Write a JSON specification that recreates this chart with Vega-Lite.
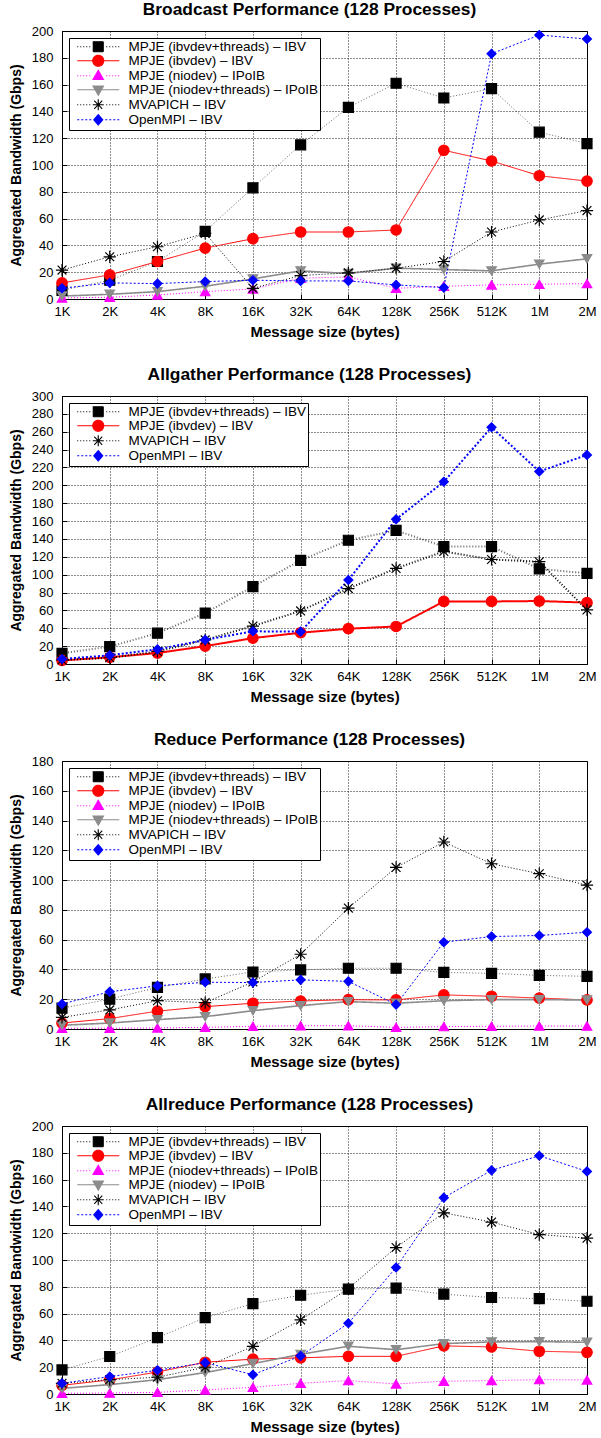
{
  "$schema": "https://vega.github.io/schema/vega-lite/v6.json",
  "background": "white",
  "padding": {"left": 8, "top": 0, "right": 5, "bottom": 3},
  "spacing": 25,
  "config": {
    "font": "Liberation Sans",
    "view": {"stroke": "black", "strokeWidth": 1},
    "title": {"font": "Liberation Sans", "fontSize": 17.4, "fontWeight": "bold", "color": "black", "offset": 6.5, "dx": -15},
    "axis": {"labelFont": "Liberation Sans", "labelFontSize": 13, "labelColor": "black", "titleFont": "Liberation Sans", "titleFontSize": 14, "titleFontWeight": "bold", "titleColor": "black", "grid": true, "gridColor": "black", "gridDash": [1, 2], "gridOpacity": 0.9, "domain": false, "tickColor": "black", "tickSize": -5},
    "axisX": {"labelPadding": 11, "titlePadding": 6, "titleFontSize": 15},
    "axisY": {"labelPadding": 14, "titlePadding": 8},
    "legend": {"orient": "top-left", "offset": 7, "padding": 2, "strokeColor": "black", "fillColor": "white", "labelFont": "Liberation Sans", "labelFontSize": 13.5, "labelColor": "black", "symbolSize": 100, "symbolOffset": 20.5, "labelOffset": 23.5, "rowPadding": -2.6, "labelLimit": 0}
  },
  "datasets": {
    "bcast": [
      {"series": "MPJE (ibvdev+threads) – IBV", "size": "1K", "gbps": 6.5},
      {"series": "MPJE (ibvdev+threads) – IBV", "size": "2K", "gbps": 14},
      {"series": "MPJE (ibvdev+threads) – IBV", "size": "4K", "gbps": 28},
      {"series": "MPJE (ibvdev+threads) – IBV", "size": "8K", "gbps": 50.5},
      {"series": "MPJE (ibvdev+threads) – IBV", "size": "16K", "gbps": 83},
      {"series": "MPJE (ibvdev+threads) – IBV", "size": "32K", "gbps": 115},
      {"series": "MPJE (ibvdev+threads) – IBV", "size": "64K", "gbps": 143},
      {"series": "MPJE (ibvdev+threads) – IBV", "size": "128K", "gbps": 161},
      {"series": "MPJE (ibvdev+threads) – IBV", "size": "256K", "gbps": 150},
      {"series": "MPJE (ibvdev+threads) – IBV", "size": "512K", "gbps": 157},
      {"series": "MPJE (ibvdev+threads) – IBV", "size": "1M", "gbps": 124.5},
      {"series": "MPJE (ibvdev+threads) – IBV", "size": "2M", "gbps": 116},
      {"series": "MPJE (ibvdev) – IBV", "size": "1K", "gbps": 12},
      {"series": "MPJE (ibvdev) – IBV", "size": "2K", "gbps": 18},
      {"series": "MPJE (ibvdev) – IBV", "size": "4K", "gbps": 28},
      {"series": "MPJE (ibvdev) – IBV", "size": "8K", "gbps": 38},
      {"series": "MPJE (ibvdev) – IBV", "size": "16K", "gbps": 45},
      {"series": "MPJE (ibvdev) – IBV", "size": "32K", "gbps": 50},
      {"series": "MPJE (ibvdev) – IBV", "size": "64K", "gbps": 50},
      {"series": "MPJE (ibvdev) – IBV", "size": "128K", "gbps": 51.5},
      {"series": "MPJE (ibvdev) – IBV", "size": "256K", "gbps": 111},
      {"series": "MPJE (ibvdev) – IBV", "size": "512K", "gbps": 103},
      {"series": "MPJE (ibvdev) – IBV", "size": "1M", "gbps": 92},
      {"series": "MPJE (ibvdev) – IBV", "size": "2M", "gbps": 88},
      {"series": "MPJE (niodev) – IPoIB", "size": "1K", "gbps": 0.8},
      {"series": "MPJE (niodev) – IPoIB", "size": "2K", "gbps": 1.3},
      {"series": "MPJE (niodev) – IPoIB", "size": "4K", "gbps": 3},
      {"series": "MPJE (niodev) – IPoIB", "size": "8K", "gbps": 5.5},
      {"series": "MPJE (niodev) – IPoIB", "size": "16K", "gbps": 7.5},
      {"series": "MPJE (niodev) – IPoIB", "size": "32K", "gbps": 15.5},
      {"series": "MPJE (niodev) – IPoIB", "size": "64K", "gbps": 16.5},
      {"series": "MPJE (niodev) – IPoIB", "size": "128K", "gbps": 8},
      {"series": "MPJE (niodev) – IPoIB", "size": "256K", "gbps": 9.5},
      {"series": "MPJE (niodev) – IPoIB", "size": "512K", "gbps": 10.5},
      {"series": "MPJE (niodev) – IPoIB", "size": "1M", "gbps": 11},
      {"series": "MPJE (niodev) – IPoIB", "size": "2M", "gbps": 11.5},
      {"series": "MPJE (niodev+threads) – IPoIB", "size": "1K", "gbps": 2.2},
      {"series": "MPJE (niodev+threads) – IPoIB", "size": "2K", "gbps": 3.5},
      {"series": "MPJE (niodev+threads) – IPoIB", "size": "4K", "gbps": 5.5},
      {"series": "MPJE (niodev+threads) – IPoIB", "size": "8K", "gbps": 9.5},
      {"series": "MPJE (niodev+threads) – IPoIB", "size": "16K", "gbps": 15},
      {"series": "MPJE (niodev+threads) – IPoIB", "size": "32K", "gbps": 21},
      {"series": "MPJE (niodev+threads) – IPoIB", "size": "64K", "gbps": 19},
      {"series": "MPJE (niodev+threads) – IPoIB", "size": "128K", "gbps": 23},
      {"series": "MPJE (niodev+threads) – IPoIB", "size": "256K", "gbps": 22},
      {"series": "MPJE (niodev+threads) – IPoIB", "size": "512K", "gbps": 21},
      {"series": "MPJE (niodev+threads) – IPoIB", "size": "1M", "gbps": 26},
      {"series": "MPJE (niodev+threads) – IPoIB", "size": "2M", "gbps": 30},
      {"series": "MVAPICH – IBV", "size": "1K", "gbps": 21.6},
      {"series": "MVAPICH – IBV", "size": "2K", "gbps": 31.5},
      {"series": "MVAPICH – IBV", "size": "4K", "gbps": 39},
      {"series": "MVAPICH – IBV", "size": "8K", "gbps": 49},
      {"series": "MVAPICH – IBV", "size": "16K", "gbps": 8},
      {"series": "MVAPICH – IBV", "size": "32K", "gbps": 17.5},
      {"series": "MVAPICH – IBV", "size": "64K", "gbps": 19.5},
      {"series": "MVAPICH – IBV", "size": "128K", "gbps": 23},
      {"series": "MVAPICH – IBV", "size": "256K", "gbps": 28},
      {"series": "MVAPICH – IBV", "size": "512K", "gbps": 50},
      {"series": "MVAPICH – IBV", "size": "1M", "gbps": 59},
      {"series": "MVAPICH – IBV", "size": "2M", "gbps": 66},
      {"series": "OpenMPI – IBV", "size": "1K", "gbps": 8},
      {"series": "OpenMPI – IBV", "size": "2K", "gbps": 12},
      {"series": "OpenMPI – IBV", "size": "4K", "gbps": 11.5},
      {"series": "OpenMPI – IBV", "size": "8K", "gbps": 13},
      {"series": "OpenMPI – IBV", "size": "16K", "gbps": 14},
      {"series": "OpenMPI – IBV", "size": "32K", "gbps": 13.5},
      {"series": "OpenMPI – IBV", "size": "64K", "gbps": 13.5},
      {"series": "OpenMPI – IBV", "size": "128K", "gbps": 10.5},
      {"series": "OpenMPI – IBV", "size": "256K", "gbps": 8.5},
      {"series": "OpenMPI – IBV", "size": "512K", "gbps": 183},
      {"series": "OpenMPI – IBV", "size": "1M", "gbps": 197},
      {"series": "OpenMPI – IBV", "size": "2M", "gbps": 194}
    ],
    "allgather": [
      {"series": "MPJE (ibvdev+threads) – IBV", "size": "1K", "gbps": 12},
      {"series": "MPJE (ibvdev+threads) – IBV", "size": "2K", "gbps": 19.5},
      {"series": "MPJE (ibvdev+threads) – IBV", "size": "4K", "gbps": 34.5},
      {"series": "MPJE (ibvdev+threads) – IBV", "size": "8K", "gbps": 57},
      {"series": "MPJE (ibvdev+threads) – IBV", "size": "16K", "gbps": 86.7},
      {"series": "MPJE (ibvdev+threads) – IBV", "size": "32K", "gbps": 116},
      {"series": "MPJE (ibvdev+threads) – IBV", "size": "64K", "gbps": 138.5},
      {"series": "MPJE (ibvdev+threads) – IBV", "size": "128K", "gbps": 149.5},
      {"series": "MPJE (ibvdev+threads) – IBV", "size": "256K", "gbps": 131.5},
      {"series": "MPJE (ibvdev+threads) – IBV", "size": "512K", "gbps": 131.5},
      {"series": "MPJE (ibvdev+threads) – IBV", "size": "1M", "gbps": 106.5},
      {"series": "MPJE (ibvdev+threads) – IBV", "size": "2M", "gbps": 101.5},
      {"series": "MPJE (ibvdev) – IBV", "size": "1K", "gbps": 4},
      {"series": "MPJE (ibvdev) – IBV", "size": "2K", "gbps": 7.5},
      {"series": "MPJE (ibvdev) – IBV", "size": "4K", "gbps": 12.3},
      {"series": "MPJE (ibvdev) – IBV", "size": "8K", "gbps": 20},
      {"series": "MPJE (ibvdev) – IBV", "size": "16K", "gbps": 29},
      {"series": "MPJE (ibvdev) – IBV", "size": "32K", "gbps": 35},
      {"series": "MPJE (ibvdev) – IBV", "size": "64K", "gbps": 39.5},
      {"series": "MPJE (ibvdev) – IBV", "size": "128K", "gbps": 42},
      {"series": "MPJE (ibvdev) – IBV", "size": "256K", "gbps": 70},
      {"series": "MPJE (ibvdev) – IBV", "size": "512K", "gbps": 70},
      {"series": "MPJE (ibvdev) – IBV", "size": "1M", "gbps": 70.5},
      {"series": "MPJE (ibvdev) – IBV", "size": "2M", "gbps": 68.7},
      {"series": "MVAPICH – IBV", "size": "1K", "gbps": 4.5},
      {"series": "MVAPICH – IBV", "size": "2K", "gbps": 7},
      {"series": "MVAPICH – IBV", "size": "4K", "gbps": 14},
      {"series": "MVAPICH – IBV", "size": "8K", "gbps": 27},
      {"series": "MVAPICH – IBV", "size": "16K", "gbps": 42.5},
      {"series": "MVAPICH – IBV", "size": "32K", "gbps": 59.4},
      {"series": "MVAPICH – IBV", "size": "64K", "gbps": 84.4},
      {"series": "MVAPICH – IBV", "size": "128K", "gbps": 107},
      {"series": "MVAPICH – IBV", "size": "256K", "gbps": 126},
      {"series": "MVAPICH – IBV", "size": "512K", "gbps": 117},
      {"series": "MVAPICH – IBV", "size": "1M", "gbps": 114.5},
      {"series": "MVAPICH – IBV", "size": "2M", "gbps": 60.5},
      {"series": "OpenMPI – IBV", "size": "1K", "gbps": 5.6},
      {"series": "OpenMPI – IBV", "size": "2K", "gbps": 9.7},
      {"series": "OpenMPI – IBV", "size": "4K", "gbps": 16.4},
      {"series": "OpenMPI – IBV", "size": "8K", "gbps": 27},
      {"series": "OpenMPI – IBV", "size": "16K", "gbps": 36.6},
      {"series": "OpenMPI – IBV", "size": "32K", "gbps": 36.2},
      {"series": "OpenMPI – IBV", "size": "64K", "gbps": 94},
      {"series": "OpenMPI – IBV", "size": "128K", "gbps": 162},
      {"series": "OpenMPI – IBV", "size": "256K", "gbps": 204},
      {"series": "OpenMPI – IBV", "size": "512K", "gbps": 265},
      {"series": "OpenMPI – IBV", "size": "1M", "gbps": 215.5},
      {"series": "OpenMPI – IBV", "size": "2M", "gbps": 234}
    ],
    "reduce": [
      {"series": "MPJE (ibvdev+threads) – IBV", "size": "1K", "gbps": 14},
      {"series": "MPJE (ibvdev+threads) – IBV", "size": "2K", "gbps": 20},
      {"series": "MPJE (ibvdev+threads) – IBV", "size": "4K", "gbps": 28},
      {"series": "MPJE (ibvdev+threads) – IBV", "size": "8K", "gbps": 33.6},
      {"series": "MPJE (ibvdev+threads) – IBV", "size": "16K", "gbps": 38.3},
      {"series": "MPJE (ibvdev+threads) – IBV", "size": "32K", "gbps": 39.7},
      {"series": "MPJE (ibvdev+threads) – IBV", "size": "64K", "gbps": 40.8},
      {"series": "MPJE (ibvdev+threads) – IBV", "size": "128K", "gbps": 40.8},
      {"series": "MPJE (ibvdev+threads) – IBV", "size": "256K", "gbps": 38},
      {"series": "MPJE (ibvdev+threads) – IBV", "size": "512K", "gbps": 37.4},
      {"series": "MPJE (ibvdev+threads) – IBV", "size": "1M", "gbps": 36},
      {"series": "MPJE (ibvdev+threads) – IBV", "size": "2M", "gbps": 35.4},
      {"series": "MPJE (ibvdev) – IBV", "size": "1K", "gbps": 4},
      {"series": "MPJE (ibvdev) – IBV", "size": "2K", "gbps": 7},
      {"series": "MPJE (ibvdev) – IBV", "size": "4K", "gbps": 12},
      {"series": "MPJE (ibvdev) – IBV", "size": "8K", "gbps": 15},
      {"series": "MPJE (ibvdev) – IBV", "size": "16K", "gbps": 17.3},
      {"series": "MPJE (ibvdev) – IBV", "size": "32K", "gbps": 18.8},
      {"series": "MPJE (ibvdev) – IBV", "size": "64K", "gbps": 19.7},
      {"series": "MPJE (ibvdev) – IBV", "size": "128K", "gbps": 19.5},
      {"series": "MPJE (ibvdev) – IBV", "size": "256K", "gbps": 22.9},
      {"series": "MPJE (ibvdev) – IBV", "size": "512K", "gbps": 22},
      {"series": "MPJE (ibvdev) – IBV", "size": "1M", "gbps": 20.8},
      {"series": "MPJE (ibvdev) – IBV", "size": "2M", "gbps": 19.5},
      {"series": "MPJE (niodev) – IPoIB", "size": "1K", "gbps": 0.5},
      {"series": "MPJE (niodev) – IPoIB", "size": "2K", "gbps": 0.5},
      {"series": "MPJE (niodev) – IPoIB", "size": "4K", "gbps": 0.7},
      {"series": "MPJE (niodev) – IPoIB", "size": "8K", "gbps": 1.1},
      {"series": "MPJE (niodev) – IPoIB", "size": "16K", "gbps": 1.8},
      {"series": "MPJE (niodev) – IPoIB", "size": "32K", "gbps": 2.2},
      {"series": "MPJE (niodev) – IPoIB", "size": "64K", "gbps": 2.2},
      {"series": "MPJE (niodev) – IPoIB", "size": "128K", "gbps": 1.1},
      {"series": "MPJE (niodev) – IPoIB", "size": "256K", "gbps": 1.6},
      {"series": "MPJE (niodev) – IPoIB", "size": "512K", "gbps": 1.8},
      {"series": "MPJE (niodev) – IPoIB", "size": "1M", "gbps": 2},
      {"series": "MPJE (niodev) – IPoIB", "size": "2M", "gbps": 2},
      {"series": "MPJE (niodev+threads) – IPoIB", "size": "1K", "gbps": 2.5},
      {"series": "MPJE (niodev+threads) – IPoIB", "size": "2K", "gbps": 4},
      {"series": "MPJE (niodev+threads) – IPoIB", "size": "4K", "gbps": 6.3},
      {"series": "MPJE (niodev+threads) – IPoIB", "size": "8K", "gbps": 8.3},
      {"series": "MPJE (niodev+threads) – IPoIB", "size": "16K", "gbps": 12.3},
      {"series": "MPJE (niodev+threads) – IPoIB", "size": "32K", "gbps": 15.7},
      {"series": "MPJE (niodev+threads) – IPoIB", "size": "64K", "gbps": 18.4},
      {"series": "MPJE (niodev+threads) – IPoIB", "size": "128K", "gbps": 17.3},
      {"series": "MPJE (niodev+threads) – IPoIB", "size": "256K", "gbps": 19},
      {"series": "MPJE (niodev+threads) – IPoIB", "size": "512K", "gbps": 19.7},
      {"series": "MPJE (niodev+threads) – IPoIB", "size": "1M", "gbps": 19.7},
      {"series": "MPJE (niodev+threads) – IPoIB", "size": "2M", "gbps": 19.5},
      {"series": "MVAPICH – IBV", "size": "1K", "gbps": 7.8},
      {"series": "MVAPICH – IBV", "size": "2K", "gbps": 12.8},
      {"series": "MVAPICH – IBV", "size": "4K", "gbps": 19},
      {"series": "MVAPICH – IBV", "size": "8K", "gbps": 17.7},
      {"series": "MVAPICH – IBV", "size": "16K", "gbps": 31.6},
      {"series": "MVAPICH – IBV", "size": "32K", "gbps": 50.2},
      {"series": "MVAPICH – IBV", "size": "64K", "gbps": 81.2},
      {"series": "MVAPICH – IBV", "size": "128K", "gbps": 108.5},
      {"series": "MVAPICH – IBV", "size": "256K", "gbps": 125.6},
      {"series": "MVAPICH – IBV", "size": "512K", "gbps": 111},
      {"series": "MVAPICH – IBV", "size": "1M", "gbps": 104.3},
      {"series": "MVAPICH – IBV", "size": "2M", "gbps": 96.6},
      {"series": "OpenMPI – IBV", "size": "1K", "gbps": 16.8},
      {"series": "OpenMPI – IBV", "size": "2K", "gbps": 25},
      {"series": "OpenMPI – IBV", "size": "4K", "gbps": 29},
      {"series": "OpenMPI – IBV", "size": "8K", "gbps": 31.4},
      {"series": "OpenMPI – IBV", "size": "16K", "gbps": 31.2},
      {"series": "OpenMPI – IBV", "size": "32K", "gbps": 33},
      {"series": "OpenMPI – IBV", "size": "64K", "gbps": 32},
      {"series": "OpenMPI – IBV", "size": "128K", "gbps": 16.4},
      {"series": "OpenMPI – IBV", "size": "256K", "gbps": 58.3},
      {"series": "OpenMPI – IBV", "size": "512K", "gbps": 62.1},
      {"series": "OpenMPI – IBV", "size": "1M", "gbps": 62.8},
      {"series": "OpenMPI – IBV", "size": "2M", "gbps": 65}
    ],
    "allreduce": [
      {"series": "MPJE (ibvdev+threads) – IBV", "size": "1K", "gbps": 18},
      {"series": "MPJE (ibvdev+threads) – IBV", "size": "2K", "gbps": 28},
      {"series": "MPJE (ibvdev+threads) – IBV", "size": "4K", "gbps": 42},
      {"series": "MPJE (ibvdev+threads) – IBV", "size": "8K", "gbps": 57},
      {"series": "MPJE (ibvdev+threads) – IBV", "size": "16K", "gbps": 67.5},
      {"series": "MPJE (ibvdev+threads) – IBV", "size": "32K", "gbps": 73.7},
      {"series": "MPJE (ibvdev+threads) – IBV", "size": "64K", "gbps": 78.2},
      {"series": "MPJE (ibvdev+threads) – IBV", "size": "128K", "gbps": 79},
      {"series": "MPJE (ibvdev+threads) – IBV", "size": "256K", "gbps": 74.5},
      {"series": "MPJE (ibvdev+threads) – IBV", "size": "512K", "gbps": 72},
      {"series": "MPJE (ibvdev+threads) – IBV", "size": "1M", "gbps": 71.2},
      {"series": "MPJE (ibvdev+threads) – IBV", "size": "2M", "gbps": 69.2},
      {"series": "MPJE (ibvdev) – IBV", "size": "1K", "gbps": 6.5},
      {"series": "MPJE (ibvdev) – IBV", "size": "2K", "gbps": 10.5},
      {"series": "MPJE (ibvdev) – IBV", "size": "4K", "gbps": 16.4},
      {"series": "MPJE (ibvdev) – IBV", "size": "8K", "gbps": 23.7},
      {"series": "MPJE (ibvdev) – IBV", "size": "16K", "gbps": 26},
      {"series": "MPJE (ibvdev) – IBV", "size": "32K", "gbps": 27},
      {"series": "MPJE (ibvdev) – IBV", "size": "64K", "gbps": 28.1},
      {"series": "MPJE (ibvdev) – IBV", "size": "128K", "gbps": 28.1},
      {"series": "MPJE (ibvdev) – IBV", "size": "256K", "gbps": 35.9},
      {"series": "MPJE (ibvdev) – IBV", "size": "512K", "gbps": 35.1},
      {"series": "MPJE (ibvdev) – IBV", "size": "1M", "gbps": 31.9},
      {"series": "MPJE (ibvdev) – IBV", "size": "2M", "gbps": 31.1},
      {"series": "MPJE (niodev+threads) – IPoIB", "size": "1K", "gbps": 0.5},
      {"series": "MPJE (niodev+threads) – IPoIB", "size": "2K", "gbps": 0.7},
      {"series": "MPJE (niodev+threads) – IPoIB", "size": "4K", "gbps": 1.2},
      {"series": "MPJE (niodev+threads) – IPoIB", "size": "8K", "gbps": 3},
      {"series": "MPJE (niodev+threads) – IPoIB", "size": "16K", "gbps": 5},
      {"series": "MPJE (niodev+threads) – IPoIB", "size": "32K", "gbps": 8},
      {"series": "MPJE (niodev+threads) – IPoIB", "size": "64K", "gbps": 10},
      {"series": "MPJE (niodev+threads) – IPoIB", "size": "128K", "gbps": 7.5},
      {"series": "MPJE (niodev+threads) – IPoIB", "size": "256K", "gbps": 9.5},
      {"series": "MPJE (niodev+threads) – IPoIB", "size": "512K", "gbps": 10},
      {"series": "MPJE (niodev+threads) – IPoIB", "size": "1M", "gbps": 10.7},
      {"series": "MPJE (niodev+threads) – IPoIB", "size": "2M", "gbps": 10.5},
      {"series": "MPJE (niodev) – IPoIB", "size": "1K", "gbps": 4.2},
      {"series": "MPJE (niodev) – IPoIB", "size": "2K", "gbps": 7},
      {"series": "MPJE (niodev) – IPoIB", "size": "4K", "gbps": 10.7},
      {"series": "MPJE (niodev) – IPoIB", "size": "8K", "gbps": 16},
      {"series": "MPJE (niodev) – IPoIB", "size": "16K", "gbps": 22.7},
      {"series": "MPJE (niodev) – IPoIB", "size": "32K", "gbps": 29.6},
      {"series": "MPJE (niodev) – IPoIB", "size": "64K", "gbps": 35.6},
      {"series": "MPJE (niodev) – IPoIB", "size": "128K", "gbps": 33.1},
      {"series": "MPJE (niodev) – IPoIB", "size": "256K", "gbps": 37.6},
      {"series": "MPJE (niodev) – IPoIB", "size": "512K", "gbps": 38.9},
      {"series": "MPJE (niodev) – IPoIB", "size": "1M", "gbps": 39.1},
      {"series": "MPJE (niodev) – IPoIB", "size": "2M", "gbps": 38.6},
      {"series": "MVAPICH – IBV", "size": "1K", "gbps": 8},
      {"series": "MVAPICH – IBV", "size": "2K", "gbps": 10.7},
      {"series": "MVAPICH – IBV", "size": "4K", "gbps": 12.5},
      {"series": "MVAPICH – IBV", "size": "8K", "gbps": 20},
      {"series": "MVAPICH – IBV", "size": "16K", "gbps": 35.6},
      {"series": "MVAPICH – IBV", "size": "32K", "gbps": 55.3},
      {"series": "MVAPICH – IBV", "size": "64K", "gbps": 78.7},
      {"series": "MVAPICH – IBV", "size": "128K", "gbps": 109.3},
      {"series": "MVAPICH – IBV", "size": "256K", "gbps": 135.2},
      {"series": "MVAPICH – IBV", "size": "512K", "gbps": 128.3},
      {"series": "MVAPICH – IBV", "size": "1M", "gbps": 119},
      {"series": "MVAPICH – IBV", "size": "2M", "gbps": 116.3},
      {"series": "OpenMPI – IBV", "size": "1K", "gbps": 8},
      {"series": "OpenMPI – IBV", "size": "2K", "gbps": 13},
      {"series": "OpenMPI – IBV", "size": "4K", "gbps": 17.7},
      {"series": "OpenMPI – IBV", "size": "8K", "gbps": 23.4},
      {"series": "OpenMPI – IBV", "size": "16K", "gbps": 14.4},
      {"series": "OpenMPI – IBV", "size": "32K", "gbps": 28.4},
      {"series": "OpenMPI – IBV", "size": "64K", "gbps": 52.8},
      {"series": "OpenMPI – IBV", "size": "128K", "gbps": 94.4},
      {"series": "OpenMPI – IBV", "size": "256K", "gbps": 146.5},
      {"series": "OpenMPI – IBV", "size": "512K", "gbps": 166.9},
      {"series": "OpenMPI – IBV", "size": "1M", "gbps": 177.8},
      {"series": "OpenMPI – IBV", "size": "2M", "gbps": 166.1}
    ]
  },
  "vconcat": [
    {
      "title": {"text": "Broadcast Performance (128 Processes)"},
      "width": 525, "height": 268,
      "data": {"name": "bcast"},
      "encoding": {
        "x": {"field": "size", "type": "ordinal", "scale": {"type": "point", "padding": 0, "domain": ["1K","2K","4K","8K","16K","32K","64K","128K","256K","512K","1M","2M"]}, "axis": {"labelAngle": 0, "title": "Message size (bytes)"}},
        "y": {"field": "gbps", "type": "quantitative", "scale": {"domain": [0, 200], "nice": false}, "axis": {"values": [0,20,40,60,80,100,120,140,160,180,200], "title": "Aggregated Bandwidth (Gbps)"}}
      },
      "layer": [
        {
          "mark": {"type": "line"},
          "encoding": {
            "color": {"field": "series", "type": "nominal",
              "scale": {"domain": ["MPJE (ibvdev+threads) – IBV","MPJE (ibvdev) – IBV","MPJE (niodev) – IPoIB","MPJE (niodev+threads) – IPoIB","MVAPICH – IBV","OpenMPI – IBV"], "range": ["#000000","#ff0000","#ff00ff","#8c8c8c","#000000","#0000ff"]},
              "legend": {"title": null, "encode": {"symbols": {"update": {
                "shape": {"signal": "['M-4.2,0L-4,0M-3.6,0L-3.4,0M-3,0L-2.8,0M-2.4,0L-2.2,0M-1.8,0L-1.6,0M1.6,0L1.8,0M2.2,0L2.4,0M2.8,0L3,0M3.4,0L3.6,0M4,0L4.2,0M-1,-1L1,-1L1,1L-1,1Z', 'M-4.2,0L4.2,0M-1.1,0A1.1,1.1,0,1,0,1.1,0A1.1,1.1,0,1,0,-1.1,0Z', 'M-4.2,0L-4,0M-3.6,0L-3.4,0M-3,0L-2.8,0M-2.4,0L-2.2,0M-1.8,0L-1.6,0M1.6,0L1.8,0M2.2,0L2.4,0M2.8,0L3,0M3.4,0L3.6,0M4,0L4.2,0M0,-1.1L1.05,0.75L-1.05,0.75Z', 'M-4.2,0L4.2,0M0,1.1L1.05,-0.75L-1.05,-0.75Z', 'M-4.2,0L-4,0M-3.6,0L-3.4,0M-3,0L-2.8,0M-2.4,0L-2.2,0M-1.8,0L-1.6,0M1.6,0L1.8,0M2.2,0L2.4,0M2.8,0L3,0M3.4,0L3.6,0M4,0L4.2,0M-1.1,0L1.1,0M0,-1.1L0,1.1M-0.8,-0.8L0.8,0.8M-0.8,0.8L0.8,-0.8', 'M-4.2,0L-3.8,0M-3.4,0L-3,0M-2.6,0L-2.2,0M-1.8,0L-1.4,0M1.4,0L1.8,0M2.2,0L2.6,0M3,0L3.4,0M3.8,0L4.2,0M0,-1.05L0.9,0L0,1.05L-0.9,0Z'][datum.index]"},
                "fill": {"signal": "['#000000','#ff0000','#ff00ff','#8c8c8c','#000000','#0000ff'][datum.index]"},
                "stroke": {"signal": "['#444444','#ff0000','#ff00ff','#8c8c8c','#000000','#0000ff'][datum.index]"},
                "strokeWidth": {"value": 1.1},
                "strokeDash": {"value": [1, 0]},
                "size": {"value": 100},
                "opacity": {"value": 1}
              }}}}
            },
            "strokeDash": {"field": "series", "type": "nominal", "legend": null,
              "scale": {"domain": ["MPJE (ibvdev+threads) – IBV","MPJE (ibvdev) – IBV","MPJE (niodev) – IPoIB","MPJE (niodev+threads) – IPoIB","MVAPICH – IBV","OpenMPI – IBV","_"], "range": [[1,2],[1,0],[1,2],[1,0],[1,2],[2,2],[1,0]]}},
            "strokeWidth": {"field": "series", "type": "nominal", "legend": null,
              "scale": {"type": "ordinal", "domain": ["MPJE (ibvdev+threads) – IBV","MPJE (ibvdev) – IBV","MPJE (niodev) – IPoIB","MPJE (niodev+threads) – IPoIB","MVAPICH – IBV","OpenMPI – IBV","_"], "range": [1,1,1,1.6,1,1,1]}},
            "strokeOpacity": {"field": "series", "type": "nominal", "legend": null,
              "scale": {"type": "ordinal", "domain": ["MPJE (ibvdev+threads) – IBV","MPJE (ibvdev) – IBV","MPJE (niodev) – IPoIB","MPJE (niodev+threads) – IPoIB","MVAPICH – IBV","OpenMPI – IBV","_"], "range": [0.6,1,1,1,1,1,1]}}
          }
        },
        {
          "mark": {"type": "point", "filled": true, "opacity": 1, "strokeWidth": 1.2},
          "encoding": {
            "color": {"field": "series", "type": "nominal"},
            "stroke": {"field": "series", "type": "nominal", "legend": null,
              "scale": {"domain": ["MPJE (ibvdev+threads) – IBV","MPJE (ibvdev) – IBV","MPJE (niodev) – IPoIB","MPJE (niodev+threads) – IPoIB","MVAPICH – IBV","OpenMPI – IBV","_"], "range": ["#000000","#ff0000","#ff00ff","#8c8c8c","#000000","#0000ff","#000000"]}},
            "shape": {"field": "series", "type": "nominal", "legend": null,
              "scale": {"domain": ["MPJE (ibvdev+threads) – IBV","MPJE (ibvdev) – IBV","MPJE (niodev) – IPoIB","MPJE (niodev+threads) – IPoIB","MVAPICH – IBV","OpenMPI – IBV","_"], "range": ["square","circle","triangle-up","triangle-down","M-1,0L1,0M0,-1L0,1M-0.72,-0.72L0.72,0.72M-0.72,0.72L0.72,-0.72","diamond","circle"]}},
            "size": {"field": "series", "type": "nominal", "legend": null,
              "scale": {"type": "ordinal", "domain": ["MPJE (ibvdev+threads) – IBV","MPJE (ibvdev) – IBV","MPJE (niodev) – IPoIB","MPJE (niodev+threads) – IPoIB","MVAPICH – IBV","OpenMPI – IBV","_"], "range": [100,110,90,90,150,80,100]}}
          }
        }
      ]
    },
    {
      "title": {"text": "Allgather Performance (128 Processes)"},
      "width": 525, "height": 268,
      "data": {"name": "allgather"},
      "encoding": {
        "x": {"field": "size", "type": "ordinal", "scale": {"type": "point", "padding": 0, "domain": ["1K","2K","4K","8K","16K","32K","64K","128K","256K","512K","1M","2M"]}, "axis": {"labelAngle": 0, "title": "Message size (bytes)"}},
        "y": {"field": "gbps", "type": "quantitative", "scale": {"domain": [0, 300], "nice": false}, "axis": {"values": [0,20,40,60,80,100,120,140,160,180,200,220,240,260,280,300], "title": "Aggregated Bandwidth (Gbps)"}}
      },
      "layer": [
        {
          "mark": {"type": "line"},
          "encoding": {
            "color": {"field": "series", "type": "nominal",
              "scale": {"domain": ["MPJE (ibvdev+threads) – IBV","MPJE (ibvdev) – IBV","MVAPICH – IBV","OpenMPI – IBV"], "range": ["#000000","#ff0000","#000000","#0000ff"]},
              "legend": {"title": null, "encode": {"symbols": {"update": {
                "shape": {"signal": "['M-4.2,0L-4,0M-3.6,0L-3.4,0M-3,0L-2.8,0M-2.4,0L-2.2,0M-1.8,0L-1.6,0M1.6,0L1.8,0M2.2,0L2.4,0M2.8,0L3,0M3.4,0L3.6,0M4,0L4.2,0M-1,-1L1,-1L1,1L-1,1Z', 'M-4.2,0L4.2,0M-1.1,0A1.1,1.1,0,1,0,1.1,0A1.1,1.1,0,1,0,-1.1,0Z', 'M-4.2,0L-4,0M-3.6,0L-3.4,0M-3,0L-2.8,0M-2.4,0L-2.2,0M-1.8,0L-1.6,0M1.6,0L1.8,0M2.2,0L2.4,0M2.8,0L3,0M3.4,0L3.6,0M4,0L4.2,0M-1.1,0L1.1,0M0,-1.1L0,1.1M-0.8,-0.8L0.8,0.8M-0.8,0.8L0.8,-0.8', 'M-4.2,0L-3.8,0M-3.4,0L-3,0M-2.6,0L-2.2,0M-1.8,0L-1.4,0M1.4,0L1.8,0M2.2,0L2.6,0M3,0L3.4,0M3.8,0L4.2,0M0,-1.05L0.9,0L0,1.05L-0.9,0Z'][datum.index]"},
                "fill": {"signal": "['#000000','#ff0000','#000000','#0000ff'][datum.index]"},
                "stroke": {"signal": "['#444444','#ff0000','#000000','#0000ff'][datum.index]"},
                "strokeWidth": {"value": 1.1},
                "strokeDash": {"value": [1, 0]},
                "size": {"value": 100},
                "opacity": {"value": 1}
              }}}}
            },
            "strokeDash": {"field": "series", "type": "nominal", "legend": null,
              "scale": {"domain": ["MPJE (ibvdev+threads) – IBV","MPJE (ibvdev) – IBV","MVAPICH – IBV","OpenMPI – IBV","_"], "range": [[1,2],[1,0],[1,2],[2,2],[1,0]]}},
            "strokeOpacity": {"field": "series", "type": "nominal", "legend": null,
              "scale": {"type": "ordinal", "domain": ["MPJE (ibvdev+threads) – IBV","MPJE (ibvdev) – IBV","MVAPICH – IBV","OpenMPI – IBV","_"], "range": [0.6,1,1,1,1]}}
          }
        },
        {
          "mark": {"type": "point", "filled": true, "opacity": 1, "strokeWidth": 1.2},
          "encoding": {
            "color": {"field": "series", "type": "nominal"},
            "stroke": {"field": "series", "type": "nominal", "legend": null,
              "scale": {"domain": ["MPJE (ibvdev+threads) – IBV","MPJE (ibvdev) – IBV","MVAPICH – IBV","OpenMPI – IBV","_"], "range": ["#000000","#ff0000","#000000","#0000ff","#000000"]}},
            "shape": {"field": "series", "type": "nominal", "legend": null,
              "scale": {"domain": ["MPJE (ibvdev+threads) – IBV","MPJE (ibvdev) – IBV","MVAPICH – IBV","OpenMPI – IBV","_"], "range": ["square","circle","M-1,0L1,0M0,-1L0,1M-0.72,-0.72L0.72,0.72M-0.72,0.72L0.72,-0.72","diamond","circle"]}},
            "size": {"field": "series", "type": "nominal", "legend": null,
              "scale": {"type": "ordinal", "domain": ["MPJE (ibvdev+threads) – IBV","MPJE (ibvdev) – IBV","MVAPICH – IBV","OpenMPI – IBV","_"], "range": [100,110,150,80,100]}}
          }
        }
      ]
    },
    {
      "title": {"text": "Reduce Performance (128 Processes)"},
      "width": 525, "height": 268,
      "data": {"name": "reduce"},
      "encoding": {
        "x": {"field": "size", "type": "ordinal", "scale": {"type": "point", "padding": 0, "domain": ["1K","2K","4K","8K","16K","32K","64K","128K","256K","512K","1M","2M"]}, "axis": {"labelAngle": 0, "title": "Message size (bytes)"}},
        "y": {"field": "gbps", "type": "quantitative", "scale": {"domain": [0, 180], "nice": false}, "axis": {"values": [0,20,40,60,80,100,120,140,160,180], "title": "Aggregated Bandwidth (Gbps)"}}
      },
      "layer": [
        {
          "mark": {"type": "line"},
          "encoding": {
            "color": {"field": "series", "type": "nominal",
              "scale": {"domain": ["MPJE (ibvdev+threads) – IBV","MPJE (ibvdev) – IBV","MPJE (niodev) – IPoIB","MPJE (niodev+threads) – IPoIB","MVAPICH – IBV","OpenMPI – IBV"], "range": ["#000000","#ff0000","#ff00ff","#8c8c8c","#000000","#0000ff"]},
              "legend": {"title": null, "encode": {"symbols": {"update": {
                "shape": {"signal": "['M-4.2,0L-4,0M-3.6,0L-3.4,0M-3,0L-2.8,0M-2.4,0L-2.2,0M-1.8,0L-1.6,0M1.6,0L1.8,0M2.2,0L2.4,0M2.8,0L3,0M3.4,0L3.6,0M4,0L4.2,0M-1,-1L1,-1L1,1L-1,1Z', 'M-4.2,0L4.2,0M-1.1,0A1.1,1.1,0,1,0,1.1,0A1.1,1.1,0,1,0,-1.1,0Z', 'M-4.2,0L-4,0M-3.6,0L-3.4,0M-3,0L-2.8,0M-2.4,0L-2.2,0M-1.8,0L-1.6,0M1.6,0L1.8,0M2.2,0L2.4,0M2.8,0L3,0M3.4,0L3.6,0M4,0L4.2,0M0,-1.1L1.05,0.75L-1.05,0.75Z', 'M-4.2,0L4.2,0M0,1.1L1.05,-0.75L-1.05,-0.75Z', 'M-4.2,0L-4,0M-3.6,0L-3.4,0M-3,0L-2.8,0M-2.4,0L-2.2,0M-1.8,0L-1.6,0M1.6,0L1.8,0M2.2,0L2.4,0M2.8,0L3,0M3.4,0L3.6,0M4,0L4.2,0M-1.1,0L1.1,0M0,-1.1L0,1.1M-0.8,-0.8L0.8,0.8M-0.8,0.8L0.8,-0.8', 'M-4.2,0L-3.8,0M-3.4,0L-3,0M-2.6,0L-2.2,0M-1.8,0L-1.4,0M1.4,0L1.8,0M2.2,0L2.6,0M3,0L3.4,0M3.8,0L4.2,0M0,-1.05L0.9,0L0,1.05L-0.9,0Z'][datum.index]"},
                "fill": {"signal": "['#000000','#ff0000','#ff00ff','#8c8c8c','#000000','#0000ff'][datum.index]"},
                "stroke": {"signal": "['#444444','#ff0000','#ff00ff','#8c8c8c','#000000','#0000ff'][datum.index]"},
                "strokeWidth": {"value": 1.1},
                "strokeDash": {"value": [1, 0]},
                "size": {"value": 100},
                "opacity": {"value": 1}
              }}}}
            },
            "strokeDash": {"field": "series", "type": "nominal", "legend": null,
              "scale": {"domain": ["MPJE (ibvdev+threads) – IBV","MPJE (ibvdev) – IBV","MPJE (niodev) – IPoIB","MPJE (niodev+threads) – IPoIB","MVAPICH – IBV","OpenMPI – IBV","_"], "range": [[1,2],[1,0],[1,2],[1,0],[1,2],[2,2],[1,0]]}},
            "strokeWidth": {"field": "series", "type": "nominal", "legend": null,
              "scale": {"type": "ordinal", "domain": ["MPJE (ibvdev+threads) – IBV","MPJE (ibvdev) – IBV","MPJE (niodev) – IPoIB","MPJE (niodev+threads) – IPoIB","MVAPICH – IBV","OpenMPI – IBV","_"], "range": [1,1,1,1.6,1,1,1]}},
            "strokeOpacity": {"field": "series", "type": "nominal", "legend": null,
              "scale": {"type": "ordinal", "domain": ["MPJE (ibvdev+threads) – IBV","MPJE (ibvdev) – IBV","MPJE (niodev) – IPoIB","MPJE (niodev+threads) – IPoIB","MVAPICH – IBV","OpenMPI – IBV","_"], "range": [0.6,1,1,1,1,1,1]}}
          }
        },
        {
          "mark": {"type": "point", "filled": true, "opacity": 1, "strokeWidth": 1.2},
          "encoding": {
            "color": {"field": "series", "type": "nominal"},
            "stroke": {"field": "series", "type": "nominal", "legend": null,
              "scale": {"domain": ["MPJE (ibvdev+threads) – IBV","MPJE (ibvdev) – IBV","MPJE (niodev) – IPoIB","MPJE (niodev+threads) – IPoIB","MVAPICH – IBV","OpenMPI – IBV","_"], "range": ["#000000","#ff0000","#ff00ff","#8c8c8c","#000000","#0000ff","#000000"]}},
            "shape": {"field": "series", "type": "nominal", "legend": null,
              "scale": {"domain": ["MPJE (ibvdev+threads) – IBV","MPJE (ibvdev) – IBV","MPJE (niodev) – IPoIB","MPJE (niodev+threads) – IPoIB","MVAPICH – IBV","OpenMPI – IBV","_"], "range": ["square","circle","triangle-up","triangle-down","M-1,0L1,0M0,-1L0,1M-0.72,-0.72L0.72,0.72M-0.72,0.72L0.72,-0.72","diamond","circle"]}},
            "size": {"field": "series", "type": "nominal", "legend": null,
              "scale": {"type": "ordinal", "domain": ["MPJE (ibvdev+threads) – IBV","MPJE (ibvdev) – IBV","MPJE (niodev) – IPoIB","MPJE (niodev+threads) – IPoIB","MVAPICH – IBV","OpenMPI – IBV","_"], "range": [100,110,90,90,150,80,100]}}
          }
        }
      ]
    },
    {
      "title": {"text": "Allreduce Performance (128 Processes)"},
      "width": 525, "height": 268,
      "data": {"name": "allreduce"},
      "encoding": {
        "x": {"field": "size", "type": "ordinal", "scale": {"type": "point", "padding": 0, "domain": ["1K","2K","4K","8K","16K","32K","64K","128K","256K","512K","1M","2M"]}, "axis": {"labelAngle": 0, "title": "Message size (bytes)"}},
        "y": {"field": "gbps", "type": "quantitative", "scale": {"domain": [0, 200], "nice": false}, "axis": {"values": [0,20,40,60,80,100,120,140,160,180,200], "title": "Aggregated Bandwidth (Gbps)"}}
      },
      "layer": [
        {
          "mark": {"type": "line"},
          "encoding": {
            "color": {"field": "series", "type": "nominal",
              "scale": {"domain": ["MPJE (ibvdev+threads) – IBV","MPJE (ibvdev) – IBV","MPJE (niodev+threads) – IPoIB","MPJE (niodev) – IPoIB","MVAPICH – IBV","OpenMPI – IBV"], "range": ["#000000","#ff0000","#ff00ff","#8c8c8c","#000000","#0000ff"]},
              "legend": {"title": null, "encode": {"symbols": {"update": {
                "shape": {"signal": "['M-4.2,0L-4,0M-3.6,0L-3.4,0M-3,0L-2.8,0M-2.4,0L-2.2,0M-1.8,0L-1.6,0M1.6,0L1.8,0M2.2,0L2.4,0M2.8,0L3,0M3.4,0L3.6,0M4,0L4.2,0M-1,-1L1,-1L1,1L-1,1Z', 'M-4.2,0L4.2,0M-1.1,0A1.1,1.1,0,1,0,1.1,0A1.1,1.1,0,1,0,-1.1,0Z', 'M-4.2,0L-4,0M-3.6,0L-3.4,0M-3,0L-2.8,0M-2.4,0L-2.2,0M-1.8,0L-1.6,0M1.6,0L1.8,0M2.2,0L2.4,0M2.8,0L3,0M3.4,0L3.6,0M4,0L4.2,0M0,-1.1L1.05,0.75L-1.05,0.75Z', 'M-4.2,0L4.2,0M0,1.1L1.05,-0.75L-1.05,-0.75Z', 'M-4.2,0L-4,0M-3.6,0L-3.4,0M-3,0L-2.8,0M-2.4,0L-2.2,0M-1.8,0L-1.6,0M1.6,0L1.8,0M2.2,0L2.4,0M2.8,0L3,0M3.4,0L3.6,0M4,0L4.2,0M-1.1,0L1.1,0M0,-1.1L0,1.1M-0.8,-0.8L0.8,0.8M-0.8,0.8L0.8,-0.8', 'M-4.2,0L-3.8,0M-3.4,0L-3,0M-2.6,0L-2.2,0M-1.8,0L-1.4,0M1.4,0L1.8,0M2.2,0L2.6,0M3,0L3.4,0M3.8,0L4.2,0M0,-1.05L0.9,0L0,1.05L-0.9,0Z'][datum.index]"},
                "fill": {"signal": "['#000000','#ff0000','#ff00ff','#8c8c8c','#000000','#0000ff'][datum.index]"},
                "stroke": {"signal": "['#444444','#ff0000','#ff00ff','#8c8c8c','#000000','#0000ff'][datum.index]"},
                "strokeWidth": {"value": 1.1},
                "strokeDash": {"value": [1, 0]},
                "size": {"value": 100},
                "opacity": {"value": 1}
              }}}}
            },
            "strokeDash": {"field": "series", "type": "nominal", "legend": null,
              "scale": {"domain": ["MPJE (ibvdev+threads) – IBV","MPJE (ibvdev) – IBV","MPJE (niodev+threads) – IPoIB","MPJE (niodev) – IPoIB","MVAPICH – IBV","OpenMPI – IBV","_"], "range": [[1,2],[1,0],[1,2],[1,0],[1,2],[2,2],[1,0]]}},
            "strokeWidth": {"field": "series", "type": "nominal", "legend": null,
              "scale": {"type": "ordinal", "domain": ["MPJE (ibvdev+threads) – IBV","MPJE (ibvdev) – IBV","MPJE (niodev+threads) – IPoIB","MPJE (niodev) – IPoIB","MVAPICH – IBV","OpenMPI – IBV","_"], "range": [1,1,1,1.6,1,1,1]}},
            "strokeOpacity": {"field": "series", "type": "nominal", "legend": null,
              "scale": {"type": "ordinal", "domain": ["MPJE (ibvdev+threads) – IBV","MPJE (ibvdev) – IBV","MPJE (niodev+threads) – IPoIB","MPJE (niodev) – IPoIB","MVAPICH – IBV","OpenMPI – IBV","_"], "range": [0.6,1,1,1,1,1,1]}}
          }
        },
        {
          "mark": {"type": "point", "filled": true, "opacity": 1, "strokeWidth": 1.2},
          "encoding": {
            "color": {"field": "series", "type": "nominal"},
            "stroke": {"field": "series", "type": "nominal", "legend": null,
              "scale": {"domain": ["MPJE (ibvdev+threads) – IBV","MPJE (ibvdev) – IBV","MPJE (niodev+threads) – IPoIB","MPJE (niodev) – IPoIB","MVAPICH – IBV","OpenMPI – IBV","_"], "range": ["#000000","#ff0000","#ff00ff","#8c8c8c","#000000","#0000ff","#000000"]}},
            "shape": {"field": "series", "type": "nominal", "legend": null,
              "scale": {"domain": ["MPJE (ibvdev+threads) – IBV","MPJE (ibvdev) – IBV","MPJE (niodev+threads) – IPoIB","MPJE (niodev) – IPoIB","MVAPICH – IBV","OpenMPI – IBV","_"], "range": ["square","circle","triangle-up","triangle-down","M-1,0L1,0M0,-1L0,1M-0.72,-0.72L0.72,0.72M-0.72,0.72L0.72,-0.72","diamond","circle"]}},
            "size": {"field": "series", "type": "nominal", "legend": null,
              "scale": {"type": "ordinal", "domain": ["MPJE (ibvdev+threads) – IBV","MPJE (ibvdev) – IBV","MPJE (niodev+threads) – IPoIB","MPJE (niodev) – IPoIB","MVAPICH – IBV","OpenMPI – IBV","_"], "range": [100,110,90,90,150,80,100]}}
          }
        }
      ]
    }
  ],
  "resolve": {
    "scale": {"color": "independent", "stroke": "independent", "shape": "independent", "size": "independent", "strokeDash": "independent", "strokeWidth": "independent", "strokeOpacity": "independent", "x": "independent", "y": "independent"},
    "legend": {"color": "independent", "stroke": "independent", "shape": "independent", "size": "independent", "strokeDash": "independent", "strokeWidth": "independent", "strokeOpacity": "independent"}
  }
}
